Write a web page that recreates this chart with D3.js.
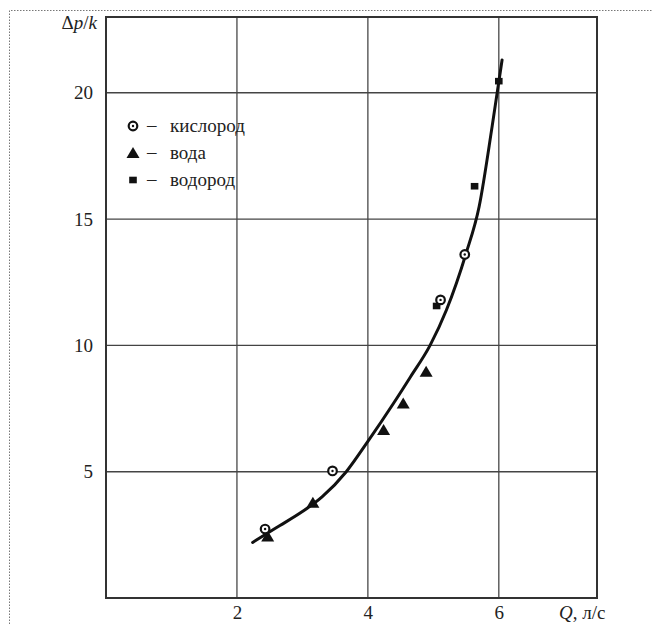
<!DOCTYPE html>
<html><head><meta charset="utf-8">
<script src="https://cdn.jsdelivr.net/npm/d3@7"></script>
<style>body{margin:0;background:#fff}svg{display:block}</style>
</head><body>
<svg id="chart" width="653" height="624"></svg>
<script>
// Measured points (Q in l/s, Δp/k) for each medium
const oxygenQ = [2.43, 3.46, 5.11, 5.48];
const oxygenP = [2.73, 5.03, 11.8, 13.6];
const waterQ = [2.47, 3.16, 4.24, 4.54, 4.89];
const waterP = [2.43, 3.77, 6.65, 7.7, 8.96];
const hydrogenQ = [5.05, 5.63, 6.0];
const hydrogenP = [11.56, 16.3, 20.46];
// Fitted curve
const curveQ = [2.24, 2.6, 3.0, 3.3, 3.67, 4.0, 4.39, 4.65, 4.95, 5.2, 5.5, 5.7, 5.9, 6.05];
const curveP = [2.2, 2.78, 3.42, 4.0, 5.0, 6.2, 7.7, 8.75, 10.0, 11.4, 13.64, 15.5, 18.7, 21.3];
const xTicks = [2, 4, 6];
const yTicks = [5, 10, 15, 20];
const legendLabels = ["кислород", "вода", "водород"];

const svg = d3.select("#chart");
const L = 106, R = 597, T = 17, B = 598;
const x = d3.scaleLinear().domain([0, 7.5]).range([L, R]);
const y = d3.scaleLinear().domain([0, 23]).range([B, T]);
const serif = '"Liberation Serif","Times New Roman",Times,Tinos,"Noto Serif","DejaVu Serif",FreeSerif,serif';

// dotted outer frame
svg.append("path").attr("d", `M9.5,624 V10.5 H653`)
  .attr("fill", "none").attr("stroke", "#777").attr("stroke-width", 1).attr("stroke-dasharray", "1.5,1.5");

// grid
const g = svg.append("g");
g.selectAll("line.vx").data(xTicks).join("line")
  .attr("x1", d => x(d)).attr("x2", d => x(d)).attr("y1", T).attr("y2", B)
  .attr("stroke", "#555").attr("stroke-width", 1.4);
g.selectAll("line.hy").data(yTicks).join("line")
  .attr("y1", d => y(d)).attr("y2", d => y(d)).attr("x1", L).attr("x2", R)
  .attr("stroke", "#444").attr("stroke-width", 1.4);

// frame
svg.append("rect").attr("x", L).attr("y", T).attr("width", R - L).attr("height", B - T)
  .attr("fill", "none").attr("stroke", "#333").attr("stroke-width", 2);

// axes (labels only)
const xAxis = d3.axisBottom(x).tickValues(xTicks).tickSize(0).tickPadding(8);
const xg = svg.append("g").attr("transform", `translate(0,${B})`).call(xAxis);
const yAxis = d3.axisLeft(y).tickValues(yTicks).tickSize(0).tickPadding(13);
const yg = svg.append("g").attr("transform", `translate(${L},0)`).call(yAxis);
[xg, yg].forEach(a => {
  a.attr("font-family", null).attr("font-size", null);
  a.select(".domain").remove();
  a.selectAll("text").style("font-family", serif).style("font-size", "19px").attr("fill", "#222");
});

// axis titles
svg.append("text").attr("x", 97).attr("y", 29).attr("text-anchor", "end")
  .style("font-family", serif).style("font-size", "19px").attr("fill", "#222")
  .html('<tspan>Δ</tspan><tspan font-style="italic">p</tspan><tspan>/</tspan><tspan font-style="italic">k</tspan>');
svg.append("text").attr("x", 559).attr("y", 619)
  .style("font-family", serif).style("font-size", "19px").attr("fill", "#222")
  .html('<tspan font-style="italic">Q</tspan><tspan>, л/с</tspan>');

// curve
const line = d3.line().x(d => x(d[0])).y(d => y(d[1])).curve(d3.curveMonotoneX);
svg.append("path").datum(d3.zip(curveQ, curveP)).attr("d", line)
  .attr("fill", "none").attr("stroke", "#111").attr("stroke-width", 3).attr("stroke-linecap", "round");

// markers
function circleMark(sel, cx, cy) {
  sel.append("circle").attr("cx", cx).attr("cy", cy).attr("r", 4.3)
    .attr("fill", "#fff").attr("stroke", "#111").attr("stroke-width", 2.2);
  sel.append("circle").attr("cx", cx).attr("cy", cy).attr("r", 1.2).attr("fill", "#111");
}
function triMark(sel, cx, cy) {
  sel.append("path").attr("d", `M${cx},${cy - 6} L${cx + 6.5},${cy + 5} L${cx - 6.5},${cy + 5}Z`).attr("fill", "#111");
}
function sqMark(sel, cx, cy) {
  sel.append("rect").attr("x", cx - 3.8).attr("y", cy - 3.3).attr("width", 7.6).attr("height", 6.6).attr("fill", "#111");
}
const m = svg.append("g");
d3.zip(waterQ, waterP).forEach(d => triMark(m, x(d[0]), y(d[1])));
d3.zip(hydrogenQ, hydrogenP).forEach(d => sqMark(m, x(d[0]), y(d[1])));
d3.zip(oxygenQ, oxygenP).forEach(d => circleMark(m, x(d[0]), y(d[1])));

// legend
const lg = svg.append("g");
const rows = [126, 153, 180];
const markFns = [circleMark, triMark, sqMark];
legendLabels.forEach((t, i) => {
  markFns[i](lg, 133, rows[i]);
  lg.append("text").attr("x", 147).attr("y", rows[i] + 5).style("font-family", serif)
    .style("font-size", "19px").attr("fill", "#222").text("–");
  lg.append("text").attr("x", 170).attr("y", rows[i] + 6).style("font-family", serif)
    .style("font-size", "19px").attr("fill", "#222").text(t);
});
</script>
</body></html>
